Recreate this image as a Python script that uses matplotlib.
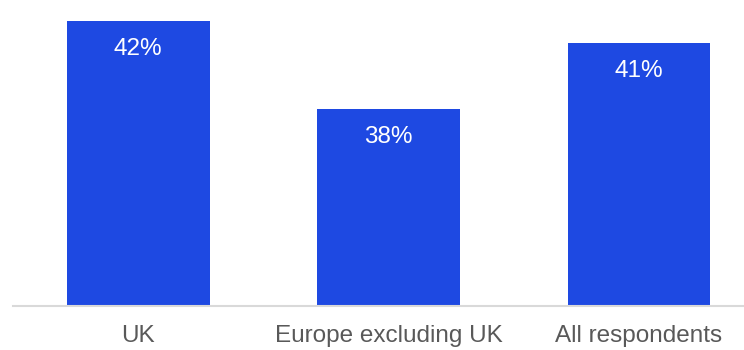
import matplotlib.pyplot as plt

plt.rcParams['font.family'] = ['Liberation Sans', 'DejaVu Sans']

regions = ["UK", "Europe excluding UK", "All respondents"]
shares = [42, 38, 41]

bar_color = "#1e49e2"

fig = plt.figure(figsize=(7.44, 3.5), dpi=100)
ax = fig.add_axes([0.0175, 0.1257, 0.9825, 0.8743])

x = range(len(regions))
bars = ax.bar(x, shares, width=0.57, color=bar_color, zorder=2)

# value labels sit inside the top of each bar
for rect, v in zip(bars, shares):
    ax.annotate(f"{v}%", (rect.get_x() + rect.get_width() / 2, v),
                xytext=(0, -20), textcoords="offset points",
                ha="center", va="center", color="white", fontsize=17.5)

ax.set_xlim(-0.5, 2.42)
ax.set_ylim(29.05, 42.96)
ax.set_xticks(list(x))
ax.set_xticklabels(regions, fontsize=17.5, color="#595959")
ax.tick_params(axis="x", length=0, pad=14)
ax.set_yticks([])
for side in ["top", "left", "right"]:
    ax.spines[side].set_visible(False)
ax.spines["bottom"].set_color("#d9d9d9")
ax.spines["bottom"].set_linewidth(1.5)

plt.savefig("out.png", dpi=100)
